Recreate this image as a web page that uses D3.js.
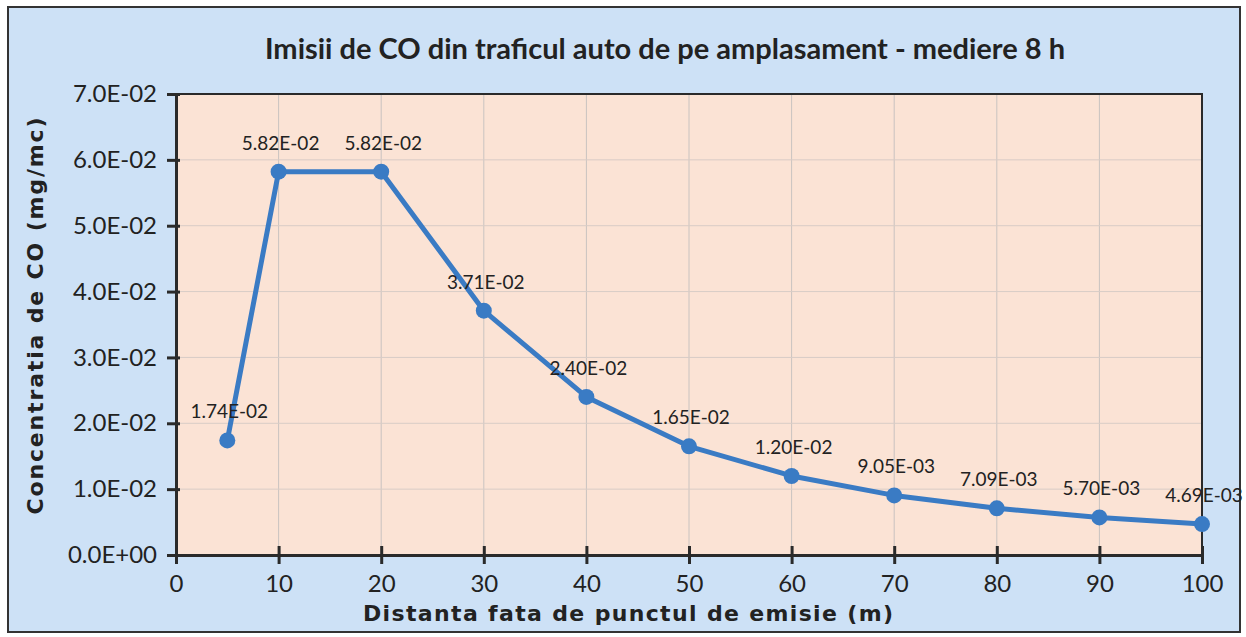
<!DOCTYPE html>
<html>
<head>
<meta charset="utf-8">
<script src="https://cdn.jsdelivr.net/npm/d3@7"></script>
<style>
  html, body { margin: 0; padding: 0; background: #fff; }
  svg { display: block; }
  .tick text { font-family: Lato, "Open Sans", sans-serif; font-size: 24px; fill: #222; }
</style>
</head>
<body>
<div id="chart"></div>
<script>
// distances (m) and CO concentrations (mg/mc)
const distances = [5, 10, 20, 30, 40, 50, 60, 70, 80, 90, 100];
const concentrations = [0.0174, 0.0582, 0.0582, 0.0371, 0.0240, 0.0165, 0.0120, 0.00905, 0.00709, 0.00570, 0.00469];
const labels = ["1.74E-02", "5.82E-02", "5.82E-02", "3.71E-02", "2.40E-02", "1.65E-02",
    "1.20E-02", "9.05E-03", "7.09E-03", "5.70E-03", "4.69E-03"];
const xTicks = [0, 10, 20, 30, 40, 50, 60, 70, 80, 90, 100];
const yTicks = [0, 0.01, 0.02, 0.03, 0.04, 0.05, 0.06, 0.07];
const yTickLabels = ["0.0E+00", "1.0E-02", "2.0E-02", "3.0E-02", "4.0E-02", "5.0E-02", "6.0E-02", "7.0E-02"];

const W = 1246, H = 637;
const margin = {left: 176, right: 44, top: 94, bottom: 82};
const width = W - margin.left - margin.right;
const height = H - margin.top - margin.bottom;

const svg = d3.select("#chart").append("svg")
    .attr("width", W)
    .attr("height", H);

// outer frame
svg.append("rect")
    .attr("x", 8).attr("y", 7)
    .attr("width", W - 14).attr("height", H - 12)
    .attr("fill", "#cde1f6")
    .attr("stroke", "#333")
    .attr("stroke-width", 2);

svg.append("text")
    .attr("x", 665).attr("y", 59)
    .attr("text-anchor", "middle")
    .attr("font-family", "Lato, 'Open Sans', sans-serif")
    .attr("font-weight", "bold")
    .attr("font-size", 29)
    .attr("fill", "#222")
    .text("Imisii de CO din traficul auto de pe amplasament  - mediere 8 h");

const g = svg.append("g")
    .attr("transform", "translate(" + margin.left + "," + margin.top + ")");

const x = d3.scaleLinear().domain([0, 100]).range([0, width]);
const y = d3.scaleLinear().domain([0, 0.07]).range([height, 0]);

g.append("rect")
    .attr("width", width).attr("height", height)
    .attr("fill", "#fbe3d5");

// grid
g.selectAll(".vgrid")
    .data(xTicks.slice(1))
    .enter().append("line")
    .attr("x1", d => x(d)).attr("x2", d => x(d))
    .attr("y1", 0).attr("y2", height)
    .attr("stroke", "#c9c3c0").attr("stroke-width", 1);

g.selectAll(".hgrid")
    .data(yTicks.slice(1))
    .enter().append("line")
    .attr("x1", 0).attr("x2", width)
    .attr("y1", d => y(d)).attr("y2", d => y(d))
    .attr("stroke", "#d8ccc6").attr("stroke-width", 1);

// frame of plot
g.append("rect")
    .attr("width", width).attr("height", height)
    .attr("fill", "none")
    .attr("stroke", "#2a2a2a").attr("stroke-width", 2);

const xAxis = d3.axisBottom(x).tickValues(xTicks).tickSize(9).tickPadding(11);
const gx = g.append("g")
    .attr("transform", "translate(0," + height + ")")
    .call(xAxis);
gx.select(".domain").attr("stroke", "#2a2a2a").attr("stroke-width", 3);
gx.selectAll(".tick line").attr("stroke", "#2a2a2a").attr("stroke-width", 3).attr("y1", -9);

const yAxis = d3.axisLeft(y).tickValues(yTicks)
    .tickFormat((d, i) => yTickLabels[i]).tickSize(9).tickPadding(10);
const gy = g.append("g").call(yAxis);
gy.select(".domain").attr("stroke", "#2a2a2a").attr("stroke-width", 3);
gy.selectAll(".tick line").attr("stroke", "#2a2a2a").attr("stroke-width", 3).attr("x1", 4);

// axis titles
svg.append("text")
    .attr("x", 628).attr("y", 621)
    .attr("text-anchor", "middle")
    .attr("font-family", "'DejaVu Sans', Verdana, sans-serif")
    .attr("font-weight", "bold")
    .attr("font-size", 22)
    .attr("textLength", 530)
    .attr("lengthAdjust", "spacing")
    .attr("fill", "#222")
    .text("Distanta fata de punctul de emisie (m)");

svg.append("text")
    .attr("transform", "translate(43,316) rotate(-90)")
    .attr("text-anchor", "middle")
    .attr("font-family", "'DejaVu Sans', Verdana, sans-serif")
    .attr("font-weight", "bold")
    .attr("font-size", 22)
    .attr("textLength", 397)
    .attr("lengthAdjust", "spacing")
    .attr("fill", "#222")
    .text("Concentratia de CO (mg/mc)");

// series
const points = distances.map((d, i) => ({x: d, y: concentrations[i], label: labels[i]}));

g.append("path")
    .datum(points)
    .attr("fill", "none")
    .attr("stroke", "#3a7bc4")
    .attr("stroke-width", 5)
    .attr("stroke-linejoin", "round")
    .attr("d", d3.line().x(d => x(d.x)).y(d => y(d.y)));

g.selectAll(".pt")
    .data(points)
    .enter().append("circle")
    .attr("cx", d => x(d.x)).attr("cy", d => y(d.y))
    .attr("r", 8)
    .attr("fill", "#3a7bc4");

g.selectAll(".lbl")
    .data(points)
    .enter().append("text")
    .attr("x", d => x(d.x) + 2).attr("y", d => y(d.y) - 22)
    .attr("text-anchor", "middle")
    .attr("font-family", "Lato, 'Open Sans', sans-serif")
    .attr("font-size", 19)
    .attr("fill", "#222")
    .text(d => d.label);
</script>
</body>
</html>
